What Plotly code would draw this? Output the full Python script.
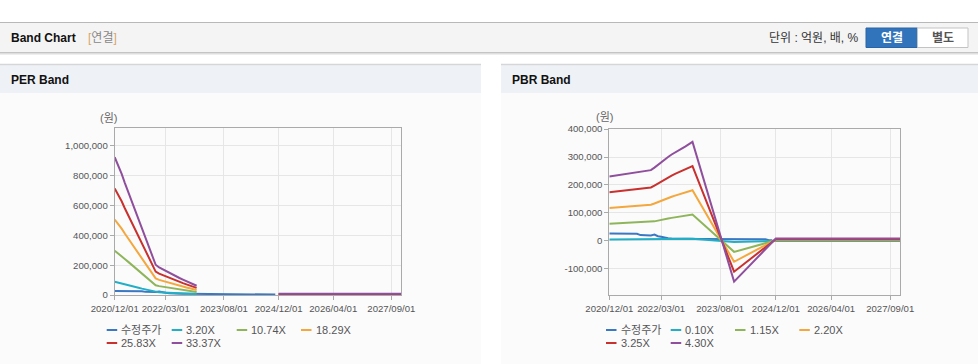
import plotly.graph_objects as go

# ---------------- data ----------------
price_dates = [
    "2020-12-01", "2021-01-01", "2021-02-01", "2021-03-01", "2021-04-01", "2021-05-01",
    "2021-06-01", "2021-07-01", "2021-08-01", "2021-09-01", "2021-10-01", "2021-11-01",
    "2021-12-01", "2022-01-01", "2022-02-01", "2022-03-01", "2022-04-01", "2022-05-01",
    "2022-06-01", "2022-07-01", "2022-08-01", "2022-09-01", "2022-10-01", "2022-11-01",
    "2022-12-01", "2023-01-01", "2023-02-01", "2023-03-01", "2023-04-01", "2023-05-01",
    "2023-06-01", "2023-07-01", "2023-08-01", "2023-09-01", "2023-10-01", "2023-11-01",
    "2023-12-01", "2024-01-01", "2024-02-01", "2024-03-01", "2024-04-01", "2024-05-01",
    "2024-06-01", "2024-07-01", "2024-08-01", "2024-09-01", "2024-10-01", "2024-11-01",
]
price = [
    27000, 27000, 26500, 26500, 26500, 26000, 26000, 25500, 25500, 21000, 20000, 20500,
    20000, 23000, 17000, 15000, 12000, 10000, 9000, 8500, 8500, 8000, 8000, 7500,
    7500, 7500, 7500, 7500, 7500, 7000, 7000, 7000, 7000, 7000, 7000, 6500,
    6500, 6500, 6500, 6500, 6500, 6500, 6500, 6500, 6500, 6000, 3000, 3000,
]

band_dates = [
    "2020-12-01", "2021-01-01", "2021-02-01", "2021-03-01", "2021-04-01", "2021-05-01",
    "2021-06-01", "2021-07-01", "2021-08-01", "2021-09-01", "2021-10-01", "2021-11-01",
    "2021-12-01", "2022-01-01", "2022-02-01", "2022-03-01", "2022-04-01", "2022-05-01",
    "2022-06-01", "2022-07-01", "2022-08-01", "2022-09-01", "2022-10-01", "2022-11-01",
    "2022-12-01", "2023-12-01", "2024-12-01", "2027-12-01",
]

per_names = ["3.20X", "10.74X", "18.29X", "25.83X", "33.37X"]
per_3_20 = [88600, 83400, 77900, 72100, 66200, 60200, 54300, 48400, 42600, 36600, 30900, 25100,
            19500, 17700, 16500, 15500, 14400, 13200, 12100, 10900, 9900, 8800, 7900, 6900,
            5900, None, 830, 830]
per_10_74 = [297400, 280000, 261300, 242000, 222100, 202100, 182200, 162500, 142900, 122900, 103600, 84300,
             65300, 59500, 55400, 52100, 48300, 44400, 40600, 36700, 33200, 29600, 26400, 23200,
             20000, None, 2800, 2800]
per_18_29 = [506400, 476800, 445100, 412200, 378200, 344200, 310200, 276800, 243400, 209400, 176500, 143600,
             111300, 101400, 94300, 88800, 82200, 75600, 69100, 62500, 56500, 50400, 44900, 39500,
             34000, None, 4770, 4770]
per_25_83 = [715200, 673400, 628500, 582100, 534100, 486100, 438100, 390900, 343700, 295700, 249200, 202800,
             157100, 143200, 133100, 125400, 116100, 106800, 97500, 88200, 79700, 71200, 63500, 55700,
             48000, None, 6730, 6730]
per_33_37 = [924000, 870000, 812000, 752000, 690000, 628000, 566000, 505000, 444000, 382000, 322000, 262000,
             203000, 185000, 172000, 162000, 150000, 138000, 126000, 114000, 103000, 92000, 82000, 72000,
             62000, None, 8700, 8700]

pbr_names = ["0.10X", "1.15X", "2.20X", "3.25X", "4.30X"]
pbr_0_10 = [5350, 5400, 5440, 5490, 5540, 5580, 5610, 5650, 5700, 5740, 5790, 5840,
            5880, 6090, 6330, 6580, 6790, 6980, 7190, 7370, 7560, 7700, 7860, 8050,
            8230, -3370, 200, 200]
pbr_1_15 = [61500, 62000, 62600, 63100, 63700, 64200, 64500, 65000, 65500, 66100, 66600, 67100,
            67700, 70100, 72700, 75700, 78100, 80200, 82600, 84800, 86900, 88500, 90400, 92500,
            94700, -38800, 2300, 2300]
pbr_2_20 = [117700, 118700, 119700, 120700, 121800, 122800, 123300, 124300, 125400, 126400, 127400, 128400,
            129400, 134000, 139200, 144800, 149400, 153500, 158100, 162200, 166300, 169400, 172900, 177000,
            181100, -74200, 4400, 4400]
pbr_3_25 = [173800, 175300, 176900, 178400, 179900, 181400, 182200, 183700, 185200, 186700, 188200, 189700,
            191200, 198000, 205600, 213900, 220700, 226800, 233500, 239600, 245600, 250200, 255500, 261500,
            267600, -109600, 6500, 6500]
pbr_4_30 = [230000, 232000, 234000, 236000, 238000, 240000, 241000, 243000, 245000, 247000, 249000, 251000,
            253000, 262000, 272000, 283000, 292000, 300000, 309000, 317000, 325000, 331000, 338000, 346000,
            354000, -145000, 8600, 8600]

x_tickvals = ["2020-12-01", "2022-03-01", "2023-08-01", "2024-12-01", "2026-04-01", "2027-09-01"]
x_ticktext = ["2020/12/01", "2022/03/01", "2023/08/01", "2024/12/01", "2026/04/01", "2027/09/01"]
per_yticks = [0, 200000, 400000, 600000, 800000, 1000000]
per_yticktext = ["0", "200,000", "400,000", "600,000", "800,000", "1,000,000"]
pbr_yticks = [-100000, 0, 100000, 200000, 300000, 400000]
pbr_yticktext = ["-100,000", "0", "100,000", "200,000", "300,000", "400,000"]

price_name = "수정주가"
colors = ["#3a78c3", "#22afc6", "#8fb55a", "#f3a73c", "#c8312e", "#8f4f9c"]

# ---------------- helpers ----------------
W, H = 978, 364
def px(x):
    return x / W
def py(y):
    return 1 - y / H

FONT = "Liberation Sans, Arial, Noto Sans CJK KR, sans-serif"

fig = go.Figure()

per_series = [per_3_20, per_10_74, per_18_29, per_25_83, per_33_37]
pbr_series = [pbr_0_10, pbr_1_15, pbr_2_20, pbr_3_25, pbr_4_30]

fig.add_trace(go.Scatter(x=price_dates, y=price, name=price_name, mode="lines",
                         line=dict(color=colors[0], width=2), xaxis="x", yaxis="y", showlegend=False))
for i, s in enumerate(per_series):
    fig.add_trace(go.Scatter(x=band_dates, y=s, name=per_names[i], mode="lines", connectgaps=False,
                             line=dict(color=colors[i + 1], width=2), xaxis="x", yaxis="y", showlegend=False))

fig.add_trace(go.Scatter(x=price_dates, y=price, name=price_name, mode="lines",
                         line=dict(color=colors[0], width=2), xaxis="x2", yaxis="y2", showlegend=False))
for i, s in enumerate(pbr_series):
    fig.add_trace(go.Scatter(x=band_dates, y=s, name=pbr_names[i], mode="lines",
                             line=dict(color=colors[i + 1], width=2), xaxis="x2", yaxis="y2", showlegend=False))

axis_common = dict(showgrid=True, gridcolor="#e6e6e6", gridwidth=1, showline=True, linecolor="#aaaaaa",
                   linewidth=1, mirror=True, ticks="outside", ticklen=4, tickcolor="#aaaaaa",
                   zeroline=False, automargin=False,
                   tickfont=dict(family=FONT, size=9.6, color="#555555"))

x_range = ["2020-12-01", "2027-11-26"]

shapes = []
annotations = []

def rect(x0, y0, x1, y1, fill, line=None, lw=1):
    shapes.append(dict(type="rect", xref="paper", yref="paper", x0=px(x0), x1=px(x1), y0=py(y1), y1=py(y0),
                       fillcolor=fill, line=dict(color=line or fill, width=lw if line else 0), layer="below"))

def hline(x0, x1, y, color, width=1):
    shapes.append(dict(type="line", xref="paper", yref="paper", x0=px(x0), x1=px(x1), y0=py(y), y1=py(y),
                       line=dict(color=color, width=width), layer="below"))

def text(x, y, t, size=11, color="#555555", xanchor="left", family=FONT):
    annotations.append(dict(x=px(x), y=py(y), xref="paper", yref="paper", text=t, showarrow=False,
                            xanchor=xanchor, yanchor="middle", borderpad=0,
                            font=dict(family=family, size=size, color=color)))

# top header bar
rect(0, 22, 978, 52.5, "#f4f4f4")
hline(0, 978, 22.5, "#b8b8b8")
hline(0, 978, 52.5, "#c4c4c4")
hline(0, 978, 53.5, "#dedede")
hline(0, 978, 54.5, "#eeeeee")
text(10, 38, "<b>Band Chart</b>", size=12, color="#111111")
text(87, 38, '<span style="color:#d9a46a">[</span>연결<span style="color:#d9a46a">]</span>', size=12, color="#888888")
text(860, 38.5, "단위 : 억원, 배, %", size=12, color="#333333", xanchor="right")
rect(866, 28, 917.5, 47.5, "#3274bc", "#2b64a6")
rect(917.5, 28, 968, 47.5, "#ffffff", "#c3c3c3")
text(892, 38, "<b>연결</b>", size=12, color="#ffffff", xanchor="center")
text(943, 38, "<b>별도</b>", size=12, color="#555555", xanchor="center")

# panels
for (x0, x1, title) in [(0, 481, "PER Band"), (501, 978, "PBR Band")]:
    rect(x0, 93, x1, 364, "#fbfbfc")
    rect(x0, 64, x1, 93, "#eef2f7")
    hline(x0, x1, 64.5, "#d6d6d6", 1.5)
    text(x0 + 10, 80, "<b>" + title + "</b>", size=12, color="#111111")

text(108, 118, "(원)", size=11, color="#666666", xanchor="center")
text(604, 117, "(원)", size=11, color="#666666", xanchor="center")

# manual legends
def legend_item(lx, y, name, color):
    shapes.append(dict(type="line", xref="paper", yref="paper", x0=px(lx), x1=px(lx + 10.5), y0=py(y), y1=py(y),
                       line=dict(color=color, width=2), layer="above"))
    text(lx + 13.5, y, name, size=11, color="#555555")

per_leg = [(106.7, 330), (171.7, 330), (236.7, 330), (301, 330), (106.7, 343), (171.7, 343)]
pbr_leg = [(606, 330), (670.7, 330), (735, 330), (799.3, 330), (606, 343), (670.7, 343)]
per_labels = [price_name] + per_names
pbr_labels = [price_name] + pbr_names
for i in range(6):
    legend_item(per_leg[i][0], per_leg[i][1], per_labels[i], colors[i])
    legend_item(pbr_leg[i][0], pbr_leg[i][1], pbr_labels[i], colors[i])

fig.update_layout(
    width=W, height=H, autosize=False,
    margin=dict(l=0, r=0, t=0, b=0, pad=0, autoexpand=False),
    paper_bgcolor="#ffffff", plot_bgcolor="#ffffff",
    font=dict(family=FONT, size=11, color="#555555"),
    showlegend=False,
    xaxis=dict(domain=[px(114.7), px(401)], type="date", range=x_range, tickvals=x_tickvals,
               ticktext=x_ticktext, tickangle=0, anchor="y", **axis_common),
    yaxis=dict(domain=[py(295), py(128.3)], range=[0, 1118000], tickvals=per_yticks,
               ticktext=per_yticktext, anchor="x", **axis_common),
    xaxis2=dict(domain=[px(609.3), px(900)], type="date", range=x_range, tickvals=x_tickvals,
                ticktext=x_ticktext, tickangle=0, anchor="y2", **axis_common),
    yaxis2=dict(domain=[py(295.3), py(129)], range=[-194000, 400000], tickvals=pbr_yticks,
                ticktext=pbr_yticktext, anchor="x2", **axis_common),
    shapes=shapes,
    annotations=annotations,
)

fig.write_html(
    "out.html",
    config={"displayModeBar": False},
    post_script="document.body.style.margin='0';document.body.style.overflow='hidden';"
                "document.documentElement.style.overflow='hidden';",
)
